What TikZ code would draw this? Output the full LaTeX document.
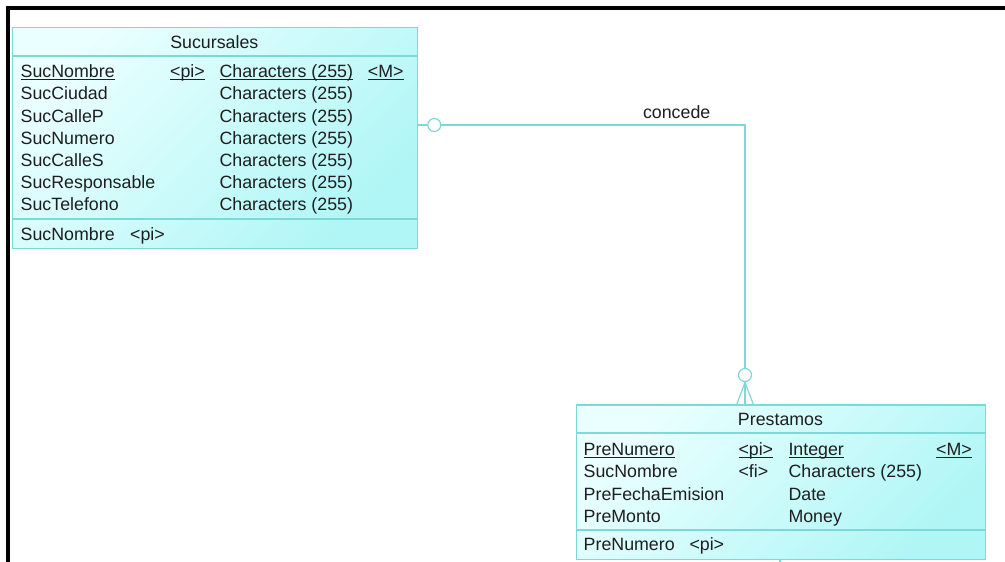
\documentclass[tikz,border=0pt]{standalone}
\usepackage{fontspec}
\setmainfont{Liberation Sans}
\definecolor{edge}{HTML}{7DD8D8}
\definecolor{fillA}{HTML}{EAFFFF}
\definecolor{fillB}{HTML}{B0F6F6}
\definecolor{ink}{HTML}{1E1E1E}
% underline at a fixed depth, independent of descenders
\newcommand\ulbox[1]{\setbox0\hbox{#1}\rlap{\rule[-2.3pt]{\wd0}{1.1pt}}\box0}

\begin{document}
\begin{tikzpicture}[x=1pt,y=-1pt,
  tbl/.style={draw=edge, line width=1.2pt, top color=fillA, bottom color=fillB,
              shading angle=45, anchor=north west, inner sep=0pt},
  sepline/.style={draw=edge, line width=1.2pt},
  rel/.style={draw=edge, line width=1.2pt},
  txt/.style={anchor=base west, inner sep=0pt, text=ink,
              font=\fontsize{17.8}{20}\selectfont},
  ttl/.style={txt, anchor=base},
  opt/.style={circle, draw=edge, fill=white, line width=1.2pt,
              minimum size=13pt, inner sep=0pt}]

\useasboundingbox (0,0) rectangle (1005,562);

% outer frame
\draw[line width=4pt, line join=miter] (8,562) -- (8,8) -- (1005,8);

% relationship "concede"
\node[opt] (o1) at (434.3,125) {};
\node[opt] (o2) at (745,375) {};
\coordinate (bend) at (o2 |- o1);
\coordinate (fork) at (745,382.5);
\coordinate (footL) at (736.7,404.3);
\coordinate (footM) at (745,404.3);
\coordinate (footR) at (753.3,404.3);
\node[ttl] (rlabel) at (676.7,118.3) {concede};

% table Sucursales
\node[tbl, minimum width=404.7pt, minimum height=221.3pt] (suc) at (12,26.7) {};
\draw[sepline] (suc.west |- 0,56) -- (suc.east |- 0,56);
\draw[sepline] (suc.west |- 0,219) -- (suc.east |- 0,219);
\node[ttl] (sucT) at (214.3,48.3) {Sucursales};
\node[txt] (s1a) at (20.5,77.6) {\ulbox{SucNombre}};
\node[txt] (s1b) at (170,77.6) {\ulbox{<pi>}};
\node[txt] (s1c) at (219.3,77.6) {\ulbox{Characters (255)}};
\node[txt] (s1d) at (367.7,77.6) {\ulbox{<M>}};
\node[txt] (s2a) at (20.5,99.8) {SucCiudad};
\node[txt] (s2c) at (219.3,99.8) {Characters (255)};
\node[txt] (s3a) at (20.5,122.0) {SucCalleP};
\node[txt] (s3c) at (219.3,122.0) {Characters (255)};
\node[txt] (s4a) at (20.5,144.2) {SucNumero};
\node[txt] (s4c) at (219.3,144.2) {Characters (255)};
\node[txt] (s5a) at (20.5,166.4) {SucCalleS};
\node[txt] (s5c) at (219.3,166.4) {Characters (255)};
\node[txt] (s6a) at (20.5,188.6) {SucResponsable};
\node[txt] (s6c) at (219.3,188.6) {Characters (255)};
\node[txt] (s7a) at (20.5,210.8) {SucTelefono};
\node[txt] (s7c) at (219.3,210.8) {Characters (255)};
\node[txt] (sKa) at (20.5,240) {SucNombre};
\node[txt] (sKb) at (130,240) {<pi>};

% table Prestamos
\node[tbl, minimum width=409pt, minimum height=154.7pt] (pre) at (576,404.3) {};
\draw[sepline] (pre.west |- 0,433) -- (pre.east |- 0,433);
\draw[sepline] (pre.west |- 0,530) -- (pre.east |- 0,530);
\node[ttl] (preT) at (780.5,425.7) {Prestamos};
\node[txt] (p1a) at (583.5,455.7) {\ulbox{PreNumero}};
\node[txt] (p1b) at (738.3,455.7) {\ulbox{<pi>}};
\node[txt] (p1c) at (788.3,455.7) {\ulbox{Integer}};
\node[txt] (p1d) at (936,455.7) {\ulbox{<M>}};
\node[txt] (p2a) at (583.5,477.9) {SucNombre};
\node[txt] (p2b) at (738.3,477.9) {<fi>};
\node[txt] (p2c) at (788.3,477.9) {Characters (255)};
\node[txt] (p3a) at (583.5,500.1) {PreFechaEmision};
\node[txt] (p3c) at (788.3,500.1) {Date};
\node[txt] (p4a) at (583.5,522.3) {PreMonto};
\node[txt] (p4c) at (788.3,522.3) {Money};
\node[txt] (pKa) at (583.5,550) {PreNumero};
\node[txt] (pKb) at (689.3,550) {<pi>};

% connector lines
\draw[rel] (suc.east |- o1) -- (o1.west);
\draw[rel] (o1.east) -- (bend) -- (o2.north);
\draw[rel] (o2.south) -- (fork);
\draw[rel] (fork) -- (footL);
\draw[rel] (fork) -- (footM);
\draw[rel] (fork) -- (footR);

% stub of a further link leaving Prestamos
\coordinate (stub) at (780,562);
\draw[rel] (pre.south -| stub) -- (stub);
\end{tikzpicture}
\end{document}
